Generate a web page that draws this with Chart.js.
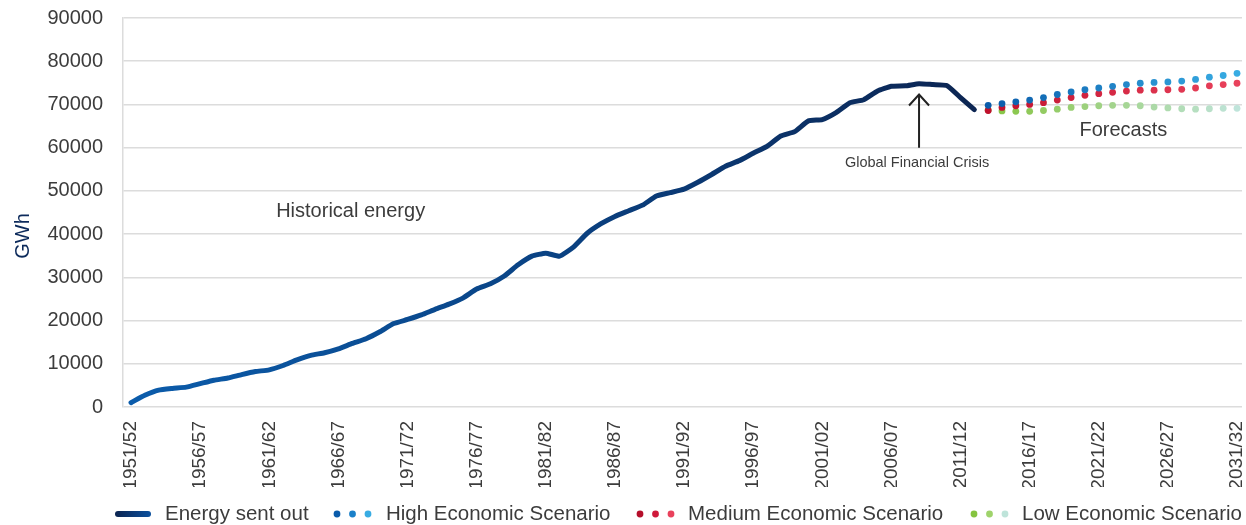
<!DOCTYPE html>
<html lang="en">
<head>
<meta charset="UTF-8">
<title>Energy sent out and forecasts</title>
<style>
  body { margin: 0; background: #ffffff; }
  #wrap { width: 1246px; height: 525px; position: relative; }
</style>
<script src="https://cdn.jsdelivr.net/npm/chart.js"></script>
</head>
<body>
<div id="wrap"><canvas id="energyChart"></canvas></div>
<script>
// financial years 1951/52 .. 2031/32 (category labels)
const years = [];
for (let y = 1951; y <= 2031; y++) years.push(y + '/' + String((y + 1) % 100).padStart(2, '0'));

const tickYears = ['1951/52', '1956/57', '1961/62', '1966/67', '1971/72', '1976/77', '1981/82', '1986/87',
  '1991/92', '1996/97', '2001/02', '2006/07', '2011/12', '2016/17', '2021/22', '2026/27', '2031/32'];

// Energy sent out, GWh, 1951/52 .. 2012/13
const historical = [
  1000, 2700, 3900, 4300, 4600, 5400, 6200, 6700, 7500, 8200,
  8600, 9600, 10900, 11950, 12550, 13450, 14700, 15800, 17400, 19300,
  20250, 21300, 22600, 23800, 25200, 27300, 28500, 30300, 32900, 34900,
  35600, 34900, 37000, 40200, 42400, 44100, 45400, 46700, 48800, 49600,
  50400, 52000, 53800, 55700, 57000, 58700, 60300, 62700, 63700, 66200,
  66500, 68100, 70400, 71100, 73100, 74200, 74300, 74800, 74600, 74400,
  71600, 68800
];

// forecasts, GWh, 2013/14 .. 2031/32
const forecastStart = '2013/14';
const highScenario = [69800, 70200, 70600, 71000, 71600, 72300, 72900, 73400, 73800, 74200,
  74600, 74900, 75100, 75200, 75400, 75800, 76300, 76700, 77200];
const mediumScenario = [68600, 69300, 69700, 70000, 70400, 71000, 71600, 72100, 72500, 72800,
  73100, 73300, 73300, 73400, 73500, 73800, 74300, 74600, 74900];
const lowScenario = [68700, 68500, 68400, 68400, 68600, 68900, 69300, 69500, 69700, 69800,
  69800, 69700, 69400, 69200, 69000, 68900, 69000, 69100, 69100];

const seriesNames = ['Energy sent out', 'High Economic Scenario', 'Medium Economic Scenario', 'Low Economic Scenario'];

const FONT = "'Liberation Sans', Arial, sans-serif";
const TEXT = '#3c3c3c';

// colour ramp for the dotted series
function hex(c) { return [1, 3, 5].map(i => parseInt(c.substr(i, 2), 16)); }
function ramp(a, b, n) {
  const A = hex(a), B = hex(b);
  return Array.from({ length: n }, (_, i) => {
    const t = n > 1 ? i / (n - 1) : 0;
    return 'rgb(' + A.map((v, k) => Math.round(v + (B[k] - v) * t)).join(',') + ')';
  });
}

const f0 = years.indexOf(forecastStart);
const histPoints = historical.map((v, i) => ({ x: i, y: v }));
const fc = arr => arr.map((v, i) => ({ x: f0 + i, y: v }));

const highColors = ramp('#0a5cab', '#38ace3', highScenario.length);
const medColors = ramp('#c0102d', '#e9425c', mediumScenario.length);
const lowColors = ramp('#86c440', '#bfe4da', lowScenario.length);

function histGradient(c) {
  const chart = c.chart;
  if (!chart.chartArea) return '#0b4a90';
  const xs = chart.scales.x;
  const g = chart.ctx.createLinearGradient(xs.getPixelForValue(0), 0, xs.getPixelForValue(historical.length - 1), 0);
  g.addColorStop(0, '#0b5cab');
  g.addColorStop(0.5, '#0a4283');
  g.addColorStop(1, '#0c2552');
  return g;
}

// annotations, legend and the axis title
const overlay = {
  id: 'overlay',
  afterDraw(chart) {
    const ctx = chart.ctx;
    const xs = chart.scales.x, ys = chart.scales.y;
    ctx.save();

    // axis title
    ctx.save();
    ctx.translate(23, 236);
    ctx.rotate(-Math.PI / 2);
    ctx.fillStyle = '#0c2a5b';
    ctx.font = '20px ' + FONT;
    ctx.textAlign = 'center';
    ctx.textBaseline = 'middle';
    ctx.fillText('GWh', 0, 0);
    ctx.restore();

    ctx.fillStyle = TEXT;
    ctx.textBaseline = 'middle';
    ctx.font = '20px ' + FONT;
    ctx.textAlign = 'left';
    ctx.fillText('Historical energy', xs.getPixelForValue(10.5), ys.getPixelForValue(45300));
    ctx.fillText('Forecasts', xs.getPixelForValue(68.6), ys.getPixelForValue(64000));

    // GFC arrow
    const ax = xs.getPixelForValue(years.indexOf('2008/09'));
    const top = ys.getPixelForValue(72300), bot = ys.getPixelForValue(60000);
    ctx.strokeStyle = '#222222';
    ctx.lineWidth = 2;
    ctx.beginPath();
    ctx.moveTo(ax, bot); ctx.lineTo(ax, top);
    ctx.moveTo(ax - 10, top + 11); ctx.lineTo(ax, top); ctx.lineTo(ax + 10, top + 11);
    ctx.stroke();
    ctx.font = '14.5px ' + FONT;
    ctx.textAlign = 'center';
    ctx.fillText('Global Financial Crisis', ax - 2, ys.getPixelForValue(56400));

    // legend
    const ly = 514;
    ctx.font = '20.5px ' + FONT;
    ctx.textAlign = 'left';
    const lg = ctx.createLinearGradient(116, 0, 150, 0);
    lg.addColorStop(0, '#0c2552'); lg.addColorStop(1, '#0b4f9c');
    ctx.strokeStyle = lg;
    ctx.lineWidth = 6;
    ctx.lineCap = 'round';
    ctx.beginPath(); ctx.moveTo(118, ly); ctx.lineTo(148, ly); ctx.stroke();
    ctx.fillText(seriesNames[0], 165, ly);

    const dotItems = [
      { x: 337, colors: ['#0a5cab', '#1a80c9', '#38ace3'], tx: 386, name: seriesNames[1] },
      { x: 640, colors: ['#b50f2b', '#cf1a3b', '#e9425c'], tx: 688, name: seriesNames[2] },
      { x: 974, colors: ['#86c440', '#9fd36b', '#bfe4da'], tx: 1022, name: seriesNames[3] }
    ];
    dotItems.forEach(it => {
      it.colors.forEach((c, k) => {
        ctx.fillStyle = c;
        ctx.beginPath(); ctx.arc(it.x + k * 15.5, ly, 3.4, 0, Math.PI * 2); ctx.fill();
      });
      ctx.fillStyle = TEXT;
      ctx.fillText(it.name, it.tx, ly);
    });
    ctx.restore();
  }
};

new Chart(document.getElementById('energyChart').getContext('2d'), {
  type: 'line',
  data: {
    datasets: [{
      label: seriesNames[0],
      data: histPoints,
      borderColor: histGradient,
      borderWidth: 5,
      borderCapStyle: 'round',
      borderJoinStyle: 'round',
      pointRadius: 0,
      tension: 0.15
    }, {
      label: seriesNames[1],
      data: fc(highScenario),
      showLine: false,
      pointRadius: 3.4,
      pointBorderWidth: 0,
      pointBackgroundColor: highColors
    }, {
      label: seriesNames[2],
      data: fc(mediumScenario),
      showLine: false,
      pointRadius: 3.4,
      pointBorderWidth: 0,
      pointBackgroundColor: medColors
    }, {
      label: seriesNames[3],
      data: fc(lowScenario),
      showLine: false,
      pointRadius: 3.4,
      pointBorderWidth: 0,
      pointBackgroundColor: lowColors
    }]
  },
  options: {
    responsive: true,
    maintainAspectRatio: false,
    animation: false,
    layout: { padding: { top: 18, right: 2, bottom: 38, left: 0 } },
    plugins: { legend: { display: false }, tooltip: { enabled: false } },
    scales: {
      x: {
        type: 'linear',
        min: -0.58,
        max: 80.36,
        grid: { display: false },
        border: { display: false },
        afterBuildTicks: s => { s.ticks = tickYears.map(l => ({ value: years.indexOf(l) })); },
        afterFit: s => { s.height = 80; s.paddingLeft = 0; s.paddingRight = 0; },
        ticks: {
          autoSkip: false,
          minRotation: 90,
          maxRotation: 90,
          padding: 6,
          color: TEXT,
          font: { family: FONT, size: 19 },
          callback: v => years[v]
        }
      },
      y: {
        min: 0,
        max: 90000,
        afterFit: s => { s.width = 123; s.paddingTop = 0; s.paddingBottom = 0; },
        grid: { color: '#dcdcdc', lineWidth: 1.5, drawTicks: false },
        border: { color: '#dcdcdc', width: 1.5 },
        ticks: {
          stepSize: 10000,
          padding: 20,
          color: TEXT,
          font: { family: FONT, size: 20 },
          callback: v => String(v)
        }
      }
    }
  },
  plugins: [overlay]
});
</script>
</body>
</html>
